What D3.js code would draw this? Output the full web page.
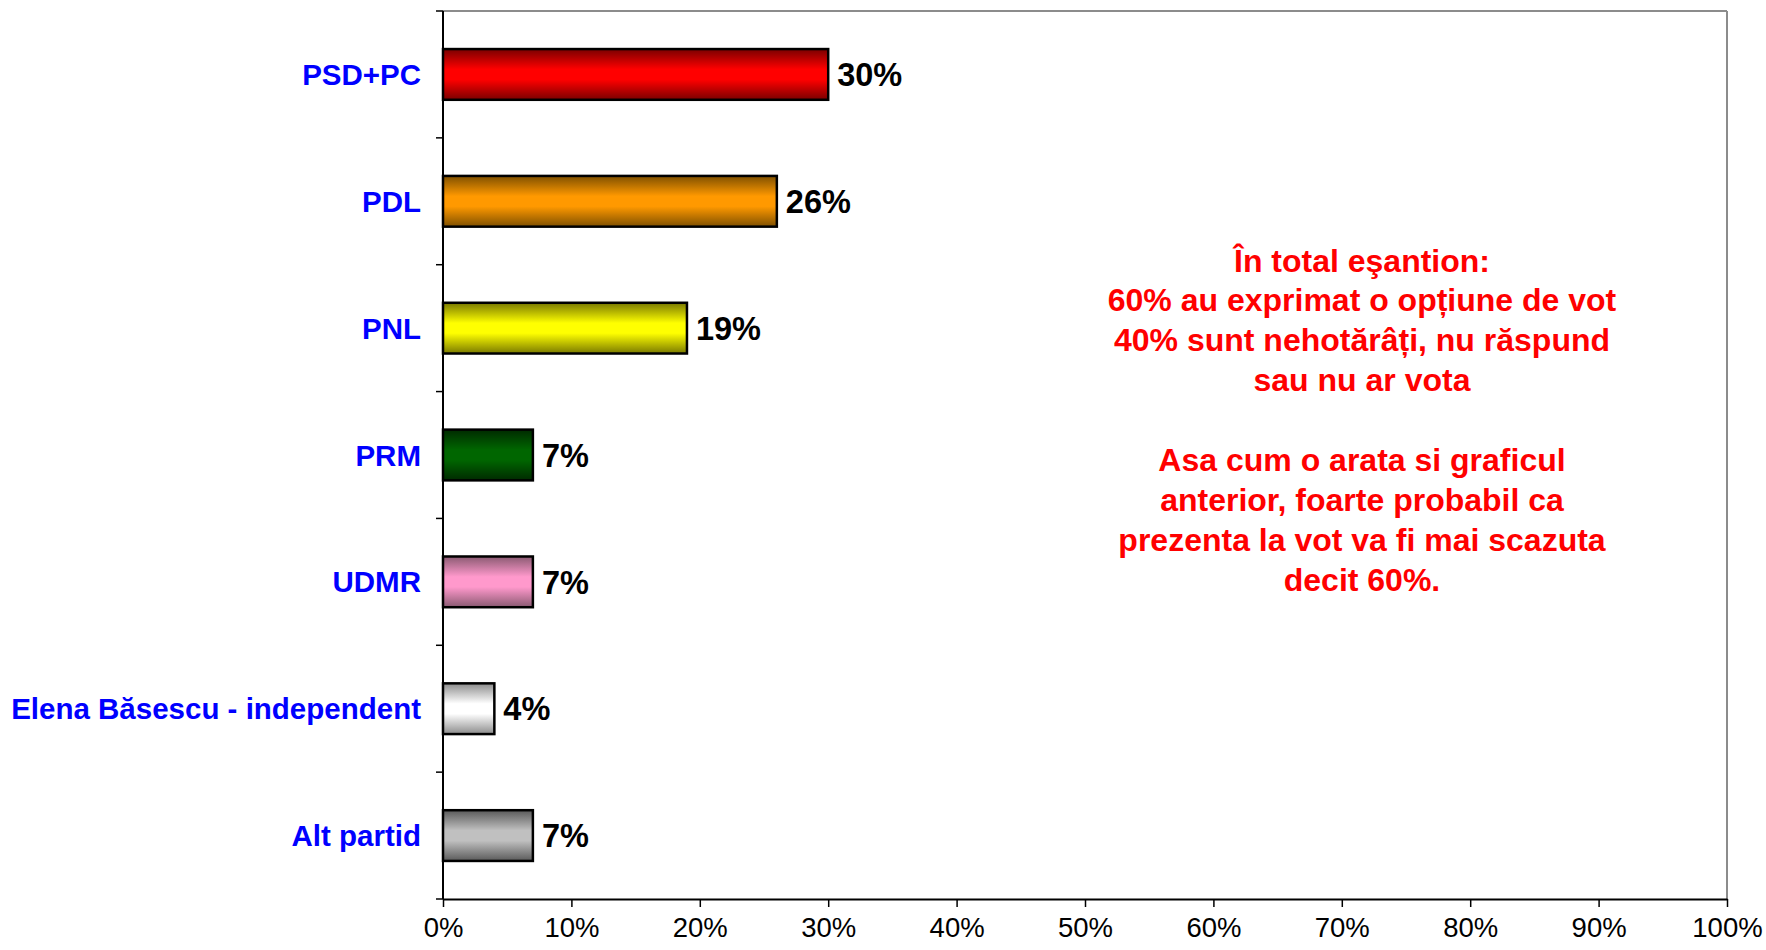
<!DOCTYPE html>
<html><head><meta charset="utf-8">
<script src="https://cdn.jsdelivr.net/npm/d3@7"></script>
<style>html,body{margin:0;padding:0;background:#fff;}svg{display:block;}</style>
</head><body>
<svg id="chart" width="1766" height="950"></svg>
<script>
const categories = ["PSD+PC","PDL","PNL","PRM","UDMR","Elena Băsescu - independent","Alt partid"];
const values = [30,26,19,7,7,4,7];
const edgeColors = ["#7a0000","#7f5000","#7a7a00","#002a00","#8a5a72","#8c8c8c","#5a5a5a"];
const midColors  = ["#ff0000","#ff9900","#ffff00","#006600","#ff99cc","#ffffff","#c0c0c0"];
const xTicks = [0,10,20,30,40,50,60,70,80,90,100];
const noteLines = ["În total eşantion:","60% au exprimat o opțiune de vot","40% sunt nehotărâți, nu răspund","sau nu ar vota","","Asa cum o arata si graficul","anterior, foarte probabil ca","prezenta la vot va fi mai scazuta","decit 60%."];

const svg = d3.select("#chart");
const L = 443, R = 1727, T = 11, B = 899;
const x = d3.scaleLinear().domain([0,100]).range([L,R]);
const y = d3.scaleBand().domain(categories).range([T,B]).padding(0);
const barH = y.bandwidth()*0.4;

const defs = svg.append("defs");
categories.forEach((c,i)=>{
  const g = defs.append("linearGradient").attr("id","g"+i).attr("x1",0).attr("y1",0).attr("x2",0).attr("y2",1);
  g.append("stop").attr("offset","0%").attr("stop-color",edgeColors[i]);
  g.append("stop").attr("offset","40%").attr("stop-color",midColors[i]);
  g.append("stop").attr("offset","60%").attr("stop-color",midColors[i]);
  g.append("stop").attr("offset","100%").attr("stop-color",edgeColors[i]);
});

// frame: top and right grey
svg.append("line").attr("x1",L).attr("x2",R).attr("y1",T).attr("y2",T).attr("stroke","#8c8c8c").attr("stroke-width",2);
svg.append("line").attr("x1",R).attr("x2",R).attr("y1",T).attr("y2",B).attr("stroke","#8c8c8c").attr("stroke-width",2);

// bars
svg.append("g").selectAll("rect").data(categories).join("rect")
  .attr("x",x(0))
  .attr("y",d=>y(d)+y.bandwidth()/2-barH/2)
  .attr("width",(d,i)=>x(values[i])-x(0))
  .attr("height",barH)
  .attr("fill",(d,i)=>"url(#g"+i+")")
  .attr("stroke","#000").attr("stroke-width",2.5);

// value labels
svg.append("g").selectAll("text").data(categories).join("text")
  .attr("x",(d,i)=>x(values[i])+9)
  .attr("y",d=>y(d)+y.bandwidth()/2)
  .attr("dy","0.36em")
  .attr("font-family","'Liberation Sans', Arial, sans-serif")
  .attr("font-weight","bold").attr("font-size",32.5).attr("fill","#000")
  .text((d,i)=>values[i]+"%");

// y axis
const yAxis = svg.append("g").attr("transform",`translate(${L},0)`);
yAxis.append("line").attr("x1",0).attr("x2",0).attr("y1",T).attr("y2",B).attr("stroke","#000").attr("stroke-width",2);
const yTickPos = categories.map(d=>y(d)).concat([B]);
yAxis.selectAll("line.t").data(yTickPos).join("line").attr("class","t")
  .attr("x1",-7).attr("x2",0).attr("y1",d=>d).attr("y2",d=>d).attr("stroke","#000").attr("stroke-width",1.5);
yAxis.selectAll("text").data(categories).join("text")
  .attr("x",-22).attr("y",d=>y(d)+y.bandwidth()/2).attr("dy","0.36em")
  .attr("text-anchor","end")
  .attr("font-family","'Liberation Sans', Arial, sans-serif")
  .attr("font-weight","bold").attr("font-size",29.5).attr("fill","#0000ff")
  .text(d=>d);

// x axis
const xAxis = svg.append("g").attr("transform",`translate(0,${B})`)
  .call(d3.axisBottom(x).tickValues(xTicks).tickSize(8).tickSizeOuter(0).tickFormat(d=>d+"%"));
xAxis.select(".domain").attr("stroke","#000").attr("stroke-width",2);
xAxis.selectAll(".tick line").attr("stroke","#000").attr("stroke-width",1.5);
xAxis.selectAll(".tick text").attr("font-family","'Liberation Sans', Arial, sans-serif")
  .attr("font-size",27.5).attr("fill","#000").attr("y",28).attr("dy","0.36em");

// annotation
const noteX = 1362, noteY0 = 260, lh = 39.9;
svg.append("g").selectAll("text").data(noteLines).join("text")
  .attr("x",noteX).attr("y",(d,i)=>noteY0+i*lh).attr("dy","0.36em")
  .attr("text-anchor","middle")
  .attr("font-family","'Liberation Sans', Arial, sans-serif")
  .attr("font-weight","bold").attr("font-size",32).attr("fill","#ff0000")
  .text(d=>d);
</script>
</body></html>
